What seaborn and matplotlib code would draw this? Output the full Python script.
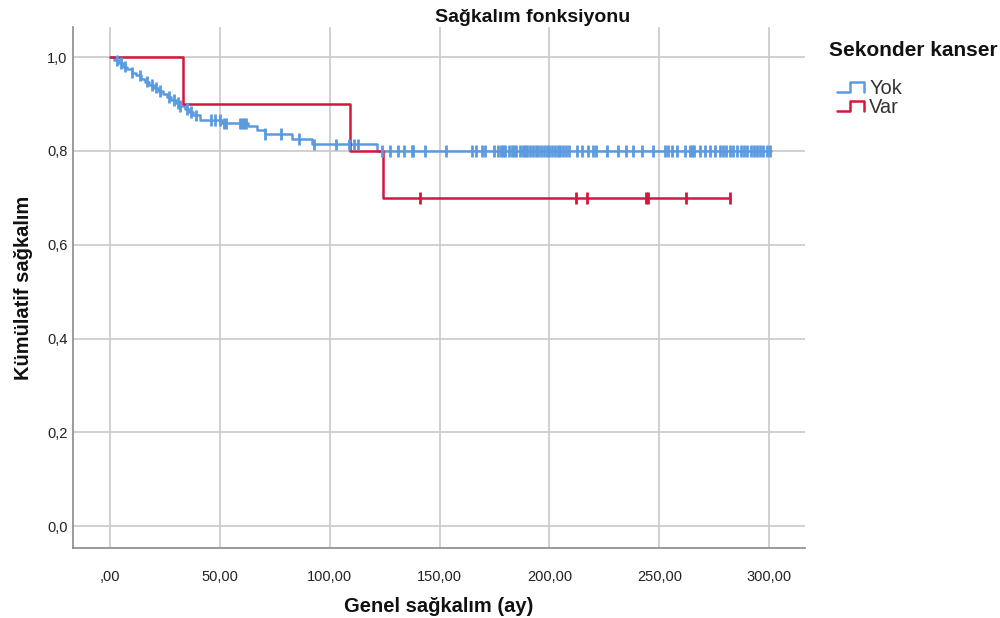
import numpy as np
import pandas as pd
import matplotlib
matplotlib.use("Agg")
import matplotlib.pyplot as plt
from matplotlib.lines import Line2D
from matplotlib.legend_handler import HandlerBase
import seaborn as sns

# ---------------- data ----------------
groups = ["Yok", "Var"]

yok_times = [0, 2, 4, 6, 8, 10, 12, 14, 16, 18, 20, 22, 24, 26, 28, 30, 32, 34, 36, 38,
             41, 51, 63, 67, 70.5, 83, 92, 121.5, 301]
yok_surv = [1.0, 0.993, 0.987, 0.980, 0.974, 0.967, 0.961, 0.954, 0.948, 0.941, 0.935,
            0.928, 0.922, 0.915, 0.909, 0.902, 0.896, 0.889, 0.883, 0.876,
            0.866, 0.859, 0.853, 0.844, 0.836, 0.825, 0.814, 0.800, 0.800]
yok_censored = [3, 5, 7, 10, 13.7, 17, 19, 21, 23, 27, 29, 31, 32, 35, 37, 39, 46, 48, 50,
                52, 53, 59, 60, 61, 62, 70.5, 78, 86, 93, 103, 109, 111, 113, 124, 127.5,
                131, 134, 137.5, 138, 143.4, 153, 164.6, 166.8, 169.5, 170.5,
                175, 176.5, 178, 179, 180, 181.5, 183, 184, 185, 186.5, 188, 189, 190, 191,
                192.5, 194, 195, 196, 197.5, 199, 200, 201, 202.5, 204, 205, 206, 207.5, 209,
                212.5, 215, 217.5, 220, 221, 226, 231, 235, 238, 242, 247, 252.6, 254, 256,
                258, 261.7, 264, 265, 266, 268.5, 271, 273, 275.5, 277.6, 279, 280.5, 282,
                283.5, 285.4, 287, 288.5, 290, 291.5, 293, 294.5, 296, 297, 299, 300.5]

var_times = [0, 33.2, 109.2, 124.3, 282]
var_surv = [1.0, 0.9, 0.8, 0.7, 0.7]
var_censored = [141, 212, 217, 244, 245, 262, 282]

xticks = [0, 50, 100, 150, 200, 250, 300]
xtick_labels = [",00", "50,00", "100,00", "150,00", "200,00", "250,00", "300,00"]
yticks = [0.0, 0.2, 0.4, 0.6, 0.8, 1.0]
ytick_labels = ["0,0", "0,2", "0,4", "0,6", "0,8", "1,0"]

colors = {"Yok": "#5a9be0", "Var": "#d5173e"}

# ---------------- build tables ----------------
steps = pd.concat([
    pd.DataFrame({"t": yok_times, "s": yok_surv, "g": "Yok"}),
    pd.DataFrame({"t": var_times, "s": var_surv, "g": "Var"}),
], ignore_index=True)


def surv_at(times, surv, c):
    idx = np.searchsorted(np.asarray(times), np.asarray(c), side="right") - 1
    return np.asarray(surv)[idx]


cens = pd.concat([
    pd.DataFrame({"t": yok_censored, "s": surv_at(yok_times, yok_surv, yok_censored), "g": "Yok"}),
    pd.DataFrame({"t": var_censored, "s": surv_at(var_times, var_surv, var_censored), "g": "Var"}),
], ignore_index=True)

# ---------------- plot ----------------
sns.set_theme(style="white")
plt.rcParams["font.family"] = ["Liberation Sans", "DejaVu Sans"]

fig = plt.figure(figsize=(10, 6.18), dpi=100)
ax = fig.add_axes([0.073, 0.113, 0.732, 0.843])

sns.lineplot(data=steps, x="t", y="s", hue="g", palette=colors, hue_order=groups,
             drawstyle="steps-post", estimator=None, sort=False, linewidth=1.8,
             legend=False, ax=ax)
sns.scatterplot(data=cens, x="t", y="s", hue="g", palette=colors, hue_order=groups,
                marker="|", s=70, linewidth=2.0, legend=False, ax=ax, zorder=3)

ax.set_xlim(-16.8, 316.3)
ax.set_ylim(-0.047, 1.064)
ax.set_xticks(xticks)
ax.set_xticklabels(xtick_labels)
ax.set_yticks(yticks)
ax.set_yticklabels(ytick_labels)
ax.tick_params(axis="x", length=0, pad=16, labelsize=10.5, labelcolor="#222222")
ax.tick_params(axis="y", length=0, pad=4, labelsize=10.5, labelcolor="#222222")
ax.grid(True, color="#cacaca", linewidth=1.2)
ax.set_axisbelow(True)
for sp in ["top", "right"]:
    ax.spines[sp].set_visible(False)
for sp in ["left", "bottom"]:
    ax.spines[sp].set_color("#8a8a8a")
    ax.spines[sp].set_linewidth(1.2)

ax.set_xlabel("Genel sağkalım (ay)", fontsize=14.5, fontweight="bold", labelpad=9, color="#111111")
ax.set_ylabel("Kümülatif sağkalım", fontsize=14.5, fontweight="bold", labelpad=10, color="#111111")
fig.text(0.533, 0.972, "Sağkalım fonksiyonu", ha="center", va="center",
         fontsize=14, fontweight="bold", color="#111111")


class StepHandler(HandlerBase):
    def create_artists(self, legend, orig_handle, xdescent, ydescent, width, height, fontsize, trans):
        x0, y0 = -xdescent, -ydescent
        lo, hi = y0 + height * 0.1, y0 + height * 0.85
        xs = [x0, x0 + width * 0.42, x0 + width * 0.42, x0 + width * 0.9, x0 + width * 0.9]
        ys = [lo, lo, hi, hi, lo]
        ln = Line2D(xs, ys, color=orig_handle.get_color(), linewidth=1.8, transform=trans)
        return [ln]


fig.text(0.829, 0.9175, "Sekonder kanser", ha="left", va="center",
         fontsize=15, fontweight="bold", color="#111111")
handles = [Line2D([], [], color=colors[g]) for g in groups]
leg = fig.legend(handles, groups, handler_map={Line2D: StepHandler()},
                 loc="center left", bbox_to_anchor=(0.837, 0.842), frameon=False,
                 fontsize=14.5, handlelength=1.5, handletextpad=0.1,
                 labelspacing=0.0, borderpad=0, borderaxespad=0)
for t in leg.get_texts():
    t.set_color("#333333")

fig.savefig("out.png", dpi=100)
